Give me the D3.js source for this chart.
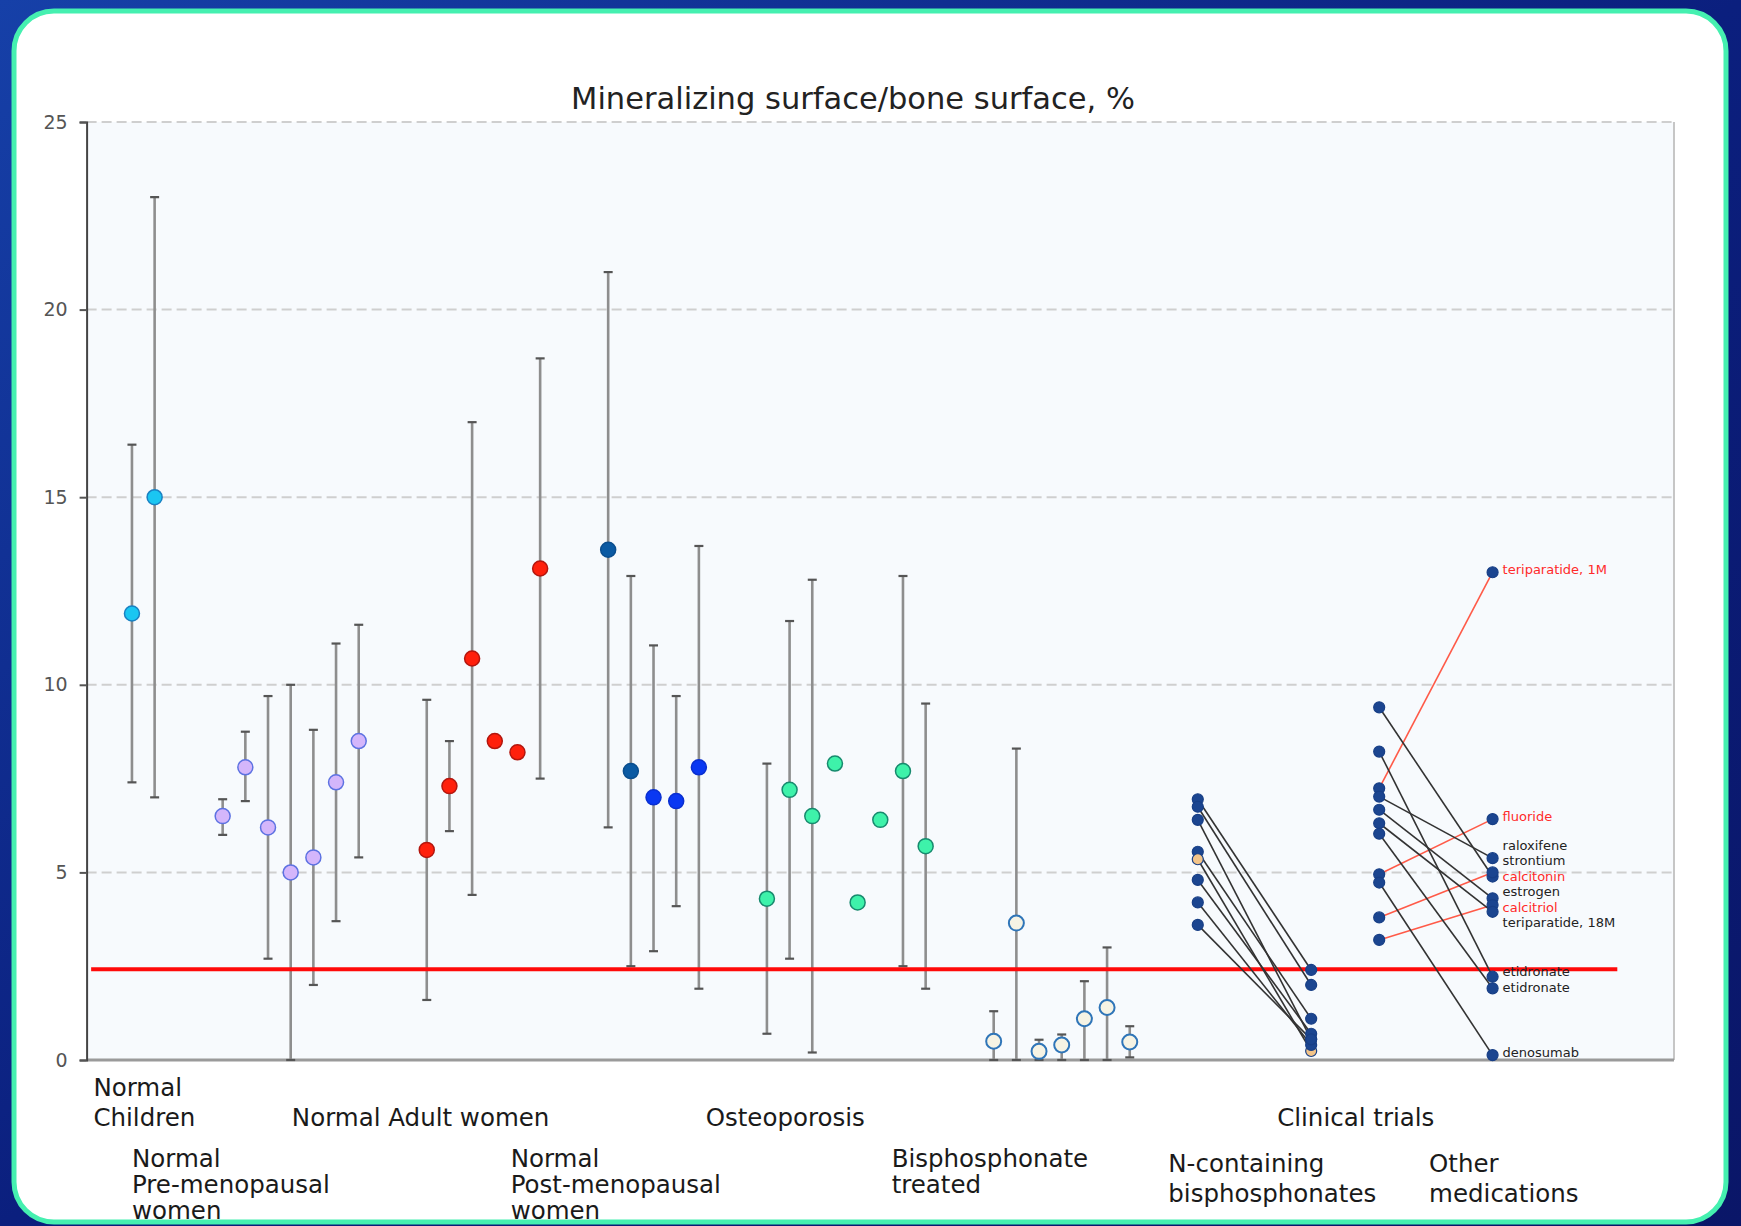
<!DOCTYPE html>
<html>
<head>
<meta charset="utf-8">
<script src="https://cdn.jsdelivr.net/npm/d3@7"></script>
<style>
  html, body { margin: 0; padding: 0; background: #0b1a70; }
  svg { display: block; }
  text { font-family: "DejaVu Sans", "Noto Sans", sans-serif; }
</style>
</head>
<body>
<div id="chart"></div>
<script>
// Données : une étude par position (slot) sur l'axe x
const studySlots = [0, 1, 4, 5, 6, 7, 8, 9, 10, 13, 14, 15, 16, 17, 18, 21, 22, 23, 24, 25,
    28, 29, 30, 31, 32, 33, 34, 35, 38, 39, 40, 41, 42, 43, 44];
const studyMeans = [11.9, 15.0, 6.5, 7.8, 6.2, 5.0, 5.4, 7.4, 8.5, 5.6, 7.3, 10.7, 8.5, 8.2, 13.1,
    13.6, 7.7, 7.0, 6.9, 7.8, 4.3, 7.2, 6.5, 7.9, 4.2, 6.4, 7.7, 5.7,
    0.5, 3.65, 0.23, 0.4, 1.1, 1.4, 0.48];
const studyLows = [7.4, 7.0, 6.0, 6.9, 2.7, 0, 2.0, 3.7, 5.4, 1.6, 6.1, 4.4, null, null, 7.5,
    6.2, 2.5, 2.9, 4.1, 1.9, 0.7, 2.7, 0.2, null, null, null, 2.5, 1.9,
    0, 0, 0, 0, 0, 0, 0.07];
const studyHighs = [16.4, 23.0, 6.95, 8.75, 9.7, 10.0, 8.8, 11.1, 11.6, 9.6, 8.5, 17.0, null, null, 18.7,
    21.0, 12.9, 11.05, 9.7, 13.7, 7.9, 11.7, 12.8, null, null, null, 12.9, 9.5,
    1.3, 8.3, 0.54, 0.68, 2.1, 3.0, 0.9];
const studyKinds = ["children", "children",
    "pre", "pre", "pre", "pre", "pre", "pre", "pre",
    "post", "post", "post", "post", "post", "post",
    "postDark", "postDark", "postBlue", "postBlue", "postBlue",
    "osteo", "osteo", "osteo", "osteo", "osteo", "osteo", "osteo", "osteo",
    "bisph", "bisph", "bisph", "bisph", "bisph", "bisph", "bisph"];

// Essais cliniques : avant / après traitement
const nbpBefore = [6.95, 6.75, 6.4, 5.55, 5.35, 4.8, 4.2, 3.6];
const nbpAfter = [2.4, 2.0, 0.55, 1.1, 0.24, 0.7, 0.4, 0.55];
const nbpMarked = [false, false, false, false, true, false, false, false];

const medNames = ["teriparatide, 1M", "fluoride", "raloxifene", "strontium", "calcitonin",
    "estrogen", "calcitriol", "teriparatide, 18M", "etidronate", "etidronate", "denosumab"];
const medBefore = [7.24, 4.95, 7.02, 9.4, 3.8, 6.67, 3.2, 6.31, 8.22, 6.03, 4.73];
const medAfter = [13.0, 6.42, 5.38, 4.89, 5.0, 4.31, 4.13, 3.95, 2.22, 1.91, 0.13];
const medRed = [true, true, false, false, true, false, true, false, false, false, false];

const yTicks = [0, 5, 10, 15, 20, 25];
const thresholdValue = 2.42;

const groupLabels = [
    { lines: ["Normal", "Children"], slot: -1.7, row: 0 },
    { lines: ["Normal Adult women"], slot: 7.05, row: 0 },
    { lines: ["Osteoporosis"], slot: 25.3, row: 0 },
    { lines: ["Clinical trials"], slot: 50.5, row: 0 },
    { lines: ["Normal", "Pre-menopausal", "women"], slot: 0, row: 1 },
    { lines: ["Normal", "Post-menopausal", "women"], slot: 16.7, row: 1 },
    { lines: ["Bisphosphonate", "treated"], slot: 33.5, row: 1 },
    { lines: ["N-containing", "bisphosphonates"], slot: 45.7, row: 2 },
    { lines: ["Other", "medications"], slot: 57.2, row: 2 }
];

const title = "Mineralizing surface/bone surface, %";

// Styles des points
const kindStyle = {
    children: { fill: "#1ac6f2", stroke: "#1a80c2" },
    pre: { fill: "#d4b6fb", stroke: "#5d72e2" },
    post: { fill: "#ff200c", stroke: "#b3160e" },
    postDark: { fill: "#0b5aa3", stroke: "#0b4e8e" },
    postBlue: { fill: "#0a38f2", stroke: "#0a2fd0" },
    osteo: { fill: "#3ef2aa", stroke: "#178a6e" },
    bisph: { fill: "#f6f3e4", stroke: "#2f75b8" }
};

// Disposition des lignes de libellés (ligne de base, interligne, ancrage bas ou haut)
const rowLayout = [
    { base: 1126, gap: 30, fromBottom: true },
    { base: 1167, gap: 26, fromBottom: false },
    { base: 1172, gap: 30, fromBottom: false }
];

const W = 1741, H = 1226;

const svg = d3.select("#chart").append("svg")
    .attr("width", W)
    .attr("height", H);

const defs = svg.append("defs");
const grad = defs.append("linearGradient")
    .attr("id", "bg").attr("x1", 0).attr("y1", 0).attr("x2", 1).attr("y2", 1);
grad.append("stop").attr("offset", 0).attr("stop-color", "#1640a8");
grad.append("stop").attr("offset", 0.5).attr("stop-color", "#0b1f7e");
grad.append("stop").attr("offset", 1).attr("stop-color", "#0a1668");

// Cadre de la diapositive
const frame = { x: 14, y: 11, w: 1712, h: 1211, r: 40 };
defs.append("clipPath").attr("id", "frameClip")
    .append("rect")
    .attr("x", frame.x).attr("y", frame.y)
    .attr("width", frame.w).attr("height", frame.h)
    .attr("rx", frame.r);

svg.append("rect").attr("width", W).attr("height", H).attr("fill", "url(#bg)");
svg.append("rect")
    .attr("x", frame.x).attr("y", frame.y)
    .attr("width", frame.w).attr("height", frame.h)
    .attr("rx", frame.r)
    .attr("fill", "#ffffff");

const g = svg.append("g").attr("clip-path", "url(#frameClip)");

// Échelles
const x = d3.scaleLinear().domain([-2, 68]).range([86.6, 1674]);
const y = d3.scaleLinear().domain([0, 25]).range([1060, 122]);

// Fond de la zone de tracé
g.append("rect")
    .attr("x", x(-2)).attr("y", y(25))
    .attr("width", x(68) - x(-2)).attr("height", y(0) - y(25))
    .attr("fill", "#f7fafd");

// Grille horizontale en pointillés
g.append("g")
    .selectAll("line")
    .data(yTicks.filter(d => d > 0))
    .enter().append("line")
    .attr("x1", x(-2)).attr("x2", x(68))
    .attr("y1", d => y(d)).attr("y2", d => y(d))
    .attr("stroke", "#cfcfcf")
    .attr("stroke-width", 2)
    .attr("stroke-dasharray", "10,5");

// Bord droit et axe du bas
g.append("line")
    .attr("x1", x(68)).attr("x2", x(68))
    .attr("y1", y(25)).attr("y2", y(0))
    .attr("stroke", "#c6c6c6").attr("stroke-width", 2);
g.append("line")
    .attr("x1", x(-2)).attr("x2", x(68))
    .attr("y1", y(0)).attr("y2", y(0))
    .attr("stroke", "#9a9a9a").attr("stroke-width", 3);

// Axe y
const yAxis = g.append("g")
    .attr("transform", `translate(${x(-2)},0)`)
    .call(d3.axisLeft(y).tickValues(yTicks).tickSize(7).tickPadding(12).tickFormat(d3.format("d")));
yAxis.select(".domain").attr("stroke", "#444").attr("stroke-width", 2);
yAxis.selectAll(".tick line").attr("stroke", "#555").attr("stroke-width", 2);
yAxis.selectAll(".tick text")
    .attr("fill", "#555")
    .style("font-size", "19px")
    .style("font-family", "DejaVu Sans, sans-serif");

// Barres d'erreur
const studies = studySlots.map((s, i) => ({
    slot: s, mean: studyMeans[i], low: studyLows[i], high: studyHighs[i], kind: studyKinds[i]
}));
const withBars = studies.filter(d => d.low !== null);

const bars = g.append("g");
bars.selectAll(".bar")
    .data(withBars)
    .enter().append("line")
    .attr("x1", d => x(d.slot)).attr("x2", d => x(d.slot))
    .attr("y1", d => y(d.low)).attr("y2", d => y(d.high))
    .attr("stroke", "#8e8e8e")
    .attr("stroke-width", 2.6);
["low", "high"].forEach(k => {
    bars.selectAll(".cap-" + k)
        .data(withBars)
        .enter().append("line")
        .attr("x1", d => x(d.slot) - 4.5).attr("x2", d => x(d.slot) + 4.5)
        .attr("y1", d => y(d[k])).attr("y2", d => y(d[k]))
        .attr("stroke", "#555")
        .attr("stroke-width", 2.2);
});

// Ligne seuil rouge
g.append("line")
    .attr("x1", x(-1.8)).attr("x2", x(65.5))
    .attr("y1", y(thresholdValue)).attr("y2", y(thresholdValue))
    .attr("stroke", "#ff0a0a")
    .attr("stroke-width", 4);

// Points des études
g.append("g")
    .selectAll("circle")
    .data(studies)
    .enter().append("circle")
    .attr("cx", d => x(d.slot))
    .attr("cy", d => y(d.mean))
    .attr("r", d => d.kind === "bisph" ? 7.5 : 7.5)
    .attr("fill", d => kindStyle[d.kind].fill)
    .attr("stroke", d => kindStyle[d.kind].stroke)
    .attr("stroke-width", d => d.kind === "bisph" ? 2 : 1.5);

// Essais cliniques : liens avant/après
function drawTrial(before, after, fromSlot, toSlot, colorOf, fillOf) {
    const grp = g.append("g");
    const rows = before.map((b, i) => ({ b: b, a: after[i], i: i }));
    grp.selectAll("line")
        .data(rows)
        .enter().append("line")
        .attr("x1", x(fromSlot)).attr("x2", x(toSlot))
        .attr("y1", d => y(d.b)).attr("y2", d => y(d.a))
        .attr("stroke", d => colorOf(d.i))
        .attr("stroke-width", 1.6);
    ["b", "a"].forEach(k => {
        grp.selectAll(".dot-" + k)
            .data(rows)
            .enter().append("circle")
            .attr("cx", k === "b" ? x(fromSlot) : x(toSlot))
            .attr("cy", d => y(d[k]))
            .attr("r", 5.5)
            .attr("fill", d => fillOf(d.i))
            .attr("stroke", "#183f86")
            .attr("stroke-width", 1.2);
    });
}

drawTrial(nbpBefore, nbpAfter, 47, 52,
    () => "#333",
    i => nbpMarked[i] ? "#f3c489" : "#1b4590");
drawTrial(medBefore, medAfter, 55, 60,
    i => medRed[i] ? "#ff5a48" : "#333",
    () => "#1b4590");

// Étiquettes des médicaments, écartées pour éviter le chevauchement
const labelPos = medAfter.map(v => y(v));
const gap = 15.5;
for (let it = 0; it < 300; it++) {
    for (let i = 1; i < labelPos.length; i++) {
        const diff = labelPos[i] - labelPos[i - 1];
        if (diff < gap) {
            const push = (gap - diff) / 2;
            labelPos[i - 1] -= push;
            labelPos[i] += push;
        }
    }
}
g.append("g")
    .selectAll("text")
    .data(medNames)
    .enter().append("text")
    .attr("x", x(60) + 10)
    .attr("y", (d, i) => labelPos[i] - 3)
    .attr("dy", "0.35em")
    .attr("fill", (d, i) => medRed[i] ? "#ff2a2a" : "#222")
    .style("font-size", "13px")
    .text(d => d);

// Titre
g.append("text")
    .attr("x", 853)
    .attr("y", 109)
    .attr("text-anchor", "middle")
    .attr("fill", "#222")
    .style("font-size", "30.5px")
    .text(title);

// Libellés des groupes sous l'axe
groupLabels.forEach(lab => {
    const n = lab.lines.length;
    const lay = rowLayout[lab.row];
    const t = g.append("text")
        .attr("fill", "#1a1a1a")
        .style("font-size", "24.5px");
    lab.lines.forEach((line, j) => {
        const baseY = lay.fromBottom
            ? lay.base - (n - 1 - j) * lay.gap
            : lay.base + j * lay.gap;
        t.append("tspan")
            .attr("x", x(lab.slot))
            .attr("y", baseY)
            .text(line);
    });
});

// Bordure verte du cadre
svg.append("rect")
    .attr("x", frame.x).attr("y", frame.y)
    .attr("width", frame.w).attr("height", frame.h)
    .attr("rx", frame.r)
    .attr("fill", "none")
    .attr("stroke", "#45f0b0")
    .attr("stroke-width", 5);
</script>
</body>
</html>
